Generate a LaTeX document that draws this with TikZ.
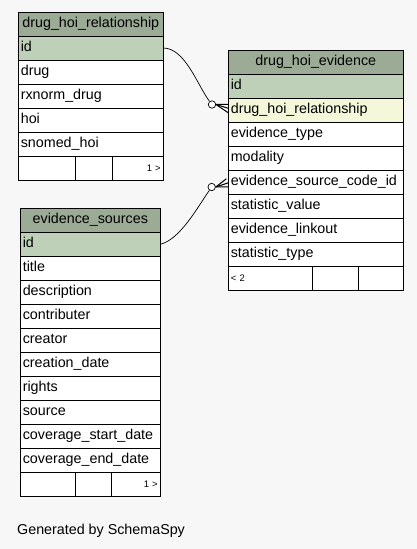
\documentclass[tikz,border=0pt]{standalone}
\usepackage{fontspec}
\setmainfont{Liberation Sans}
\usetikzlibrary{matrix}
\definecolor{bgcol}{HTML}{F7F7F7}
\definecolor{headgreen}{HTML}{9BAB96}
\definecolor{pkgreen}{HTML}{BED1B8}
\definecolor{idxyellow}{HTML}{F4F7DA}
\tikzset{
  tabcell/.style = {shape=rectangle, draw, fill=white, anchor=center,
                    outer sep=0pt, inner xsep=2.5pt, inner ysep=0pt,
                    minimum height=24pt, text height=10.3pt, text depth=3pt,
                    align=left, font=\fontsize{14.3}{17}\selectfont},
  tabhead/.style = {tabcell, fill=headgreen, align=center},
  pkcell/.style  = {tabcell, fill=pkgreen},
  fkcell/.style  = {tabcell, fill=idxyellow},
  tabfoot/.style = {tabcell, font=\fontsize{9.5}{12}\selectfont},
  odot/.style    = {circle, draw, fill=white, line width=0.7pt,
                    minimum size=7.4pt, inner sep=0pt},
  fklink/.style  = {line width=0.7pt},
  crow/.style    = {line width=1pt},
}
\begin{document}
\begin{tikzpicture}[x=1pt, y=-1pt, line width=1pt]
  \fill[bgcol] (0,0) rectangle (417,549);
  \useasboundingbox (0,0) rectangle (417,549);
  \matrix (rel) at (17.3,11)
    [
      matrix of nodes,
      anchor       = north west,
      inner sep    = 0pt,
      row sep      = -1pt,
      nodes        = {tabcell, text width=140pt},
      row 1/.style = {nodes={tabhead}},
      row 2/.style = {nodes={pkcell}},
      row 7/.style = {nodes={tabfoot, align=right}}
    ]
    {
      drug\_hoi\_relationship \\
      id                      \\
      drug                    \\
      rxnorm\_drug            \\
      hoi                     \\
      snomed\_hoi             \\
      1 >                     \\
    };
  \matrix (evi) at (227.3,49.3)
    [
      matrix of nodes,
      anchor        = north west,
      inner sep     = 0pt,
      row sep       = -1pt,
      nodes         = {tabcell, text width=170pt},
      row 1/.style  = {nodes={tabhead}},
      row 2/.style  = {nodes={pkcell}},
      row 3/.style  = {nodes={fkcell}},
      row 10/.style = {nodes={tabfoot}}
    ]
    {
      drug\_hoi\_evidence          \\
      id                           \\
      drug\_hoi\_relationship      \\
      evidence\_type              \\
      modality                     \\
      evidence\_source\_code\_id  \\
      statistic\_value            \\
      evidence\_linkout           \\
      statistic\_type             \\
      < 2                          \\
    };
  \matrix (src) at (19.3,207.3)
    [
      matrix of nodes,
      anchor        = north west,
      inner sep     = 0pt,
      row sep       = -1pt,
      nodes         = {tabcell, text width=135pt},
      row 1/.style  = {nodes={tabhead}},
      row 2/.style  = {nodes={pkcell}},
      row 12/.style = {nodes={tabfoot, align=right}}
    ]
    {
      evidence\_sources       \\
      id                      \\
      title                   \\
      description             \\
      contributer             \\
      creator                 \\
      creation\_date          \\
      rights                  \\
      source                  \\
      coverage\_start\_date   \\
      coverage\_end\_date     \\
      1 >                     \\
    };
  % footer cells
  \draw ([xshift=57pt]rel-7-1.north west) -- ([xshift=57pt]rel-7-1.south west);
  \draw ([xshift=93.7pt]rel-7-1.north west) -- ([xshift=93.7pt]rel-7-1.south west);
  \draw ([xshift=84.4pt]evi-10-1.north west) -- ([xshift=84.4pt]evi-10-1.south west);
  \draw ([xshift=130pt]evi-10-1.north west) -- ([xshift=130pt]evi-10-1.south west);
  \draw ([xshift=55pt]src-12-1.north west) -- ([xshift=55pt]src-12-1.south west);
  \draw ([xshift=91pt]src-12-1.north west) -- ([xshift=91pt]src-12-1.south west);
  % foreign keys
  \node[odot] (relodot) at (212,104.5) {};
  \node[odot] (srcodot) at (211.7,187) {};
  \draw[fklink] (rel-2-1.east) .. controls +(22,0) and +(-14,-18) .. (relodot);
  \draw[crow] (relodot.east) -- ([yshift=6pt]evi-3-1.west);
  \draw[crow] (relodot.east) -- ([yshift=2pt]evi-3-1.west);
  \draw[crow] (relodot.east) -- ([yshift=-2.5pt]evi-3-1.west);
  \draw[fklink] (src-2-1.east) .. controls +(20,-5) and +(-14,20) .. (srcodot);
  \draw[crow] (srcodot.east) -- ([xshift=-2pt,yshift=3.5pt]evi-6-1.west);
  \draw[crow] (srcodot.east) -- ([yshift=-0.5pt]evi-6-1.west);
  \draw[crow] (srcodot.east) -- ([yshift=-4.5pt]evi-6-1.west);
  \node[anchor=base west, inner sep=0pt, font=\fontsize{14.3}{17}\selectfont]
    (gen) at (16.7,534) {Generated by SchemaSpy};
\end{tikzpicture}
\end{document}
